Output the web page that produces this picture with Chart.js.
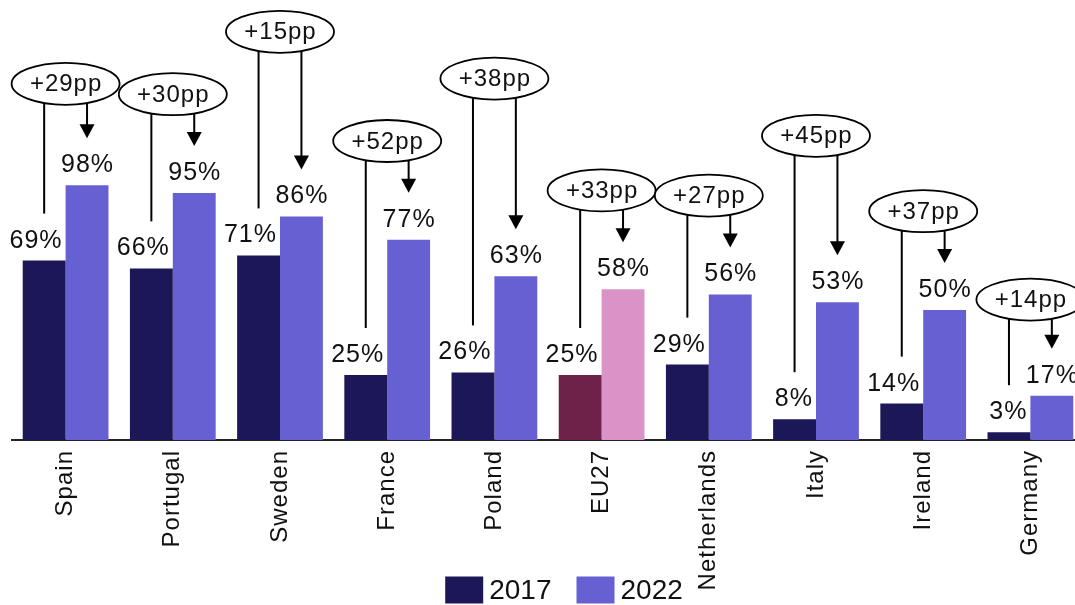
<!DOCTYPE html>
<html>
<head>
<meta charset="utf-8">
<script src="https://cdn.jsdelivr.net/npm/chart.js@4.4.0/dist/chart.umd.min.js"></script>
<style>
  html, body { margin: 0; padding: 0; background: #fff; overflow: hidden; }
  #wrap { width: 1130px; height: 605px; }
</style>
</head>
<body>
<div id="wrap"><canvas id="myChart" width="1130" height="605"></canvas></div>
<script>
const categories = ['Spain', 'Portugal', 'Sweden', 'France', 'Poland', 'EU27', 'Netherlands', 'Italy', 'Ireland', 'Germany'];
const values2017 = [69, 66, 71, 25, 26, 25, 29, 8, 14, 3];
const values2022 = [98, 95, 86, 77, 63, 58, 56, 53, 50, 17];
const changeLabels = ['+29pp', '+30pp', '+15pp', '+52pp', '+38pp', '+33pp', '+27pp', '+45pp', '+37pp', '+14pp'];

// where each change bubble sits, in axis units (layout only)
const bubbleLevel = [137, 133, 157, 115, 139, 96, 94, 117, 88, 54];

const FONT = '"Liberation Sans", Arial, sans-serif';
const dark = '#1c1857';
const light = '#6760d3';
const euDark = '#6e2149';
const euLight = '#d993c6';

const colors2017 = categories.map(c => c === 'EU27' ? euDark : dark);
const colors2022 = categories.map(c => c === 'EU27' ? euLight : light);

const annotate = {
  id: 'annotate',
  beforeDraw(chart) {
    // a touch of tracking on all text
    chart.ctx.letterSpacing = '1px';
  },
  afterDatasetsDraw(chart) {
    const ctx = chart.ctx;
    const xs = chart.scales.x, ys = chart.scales.y;
    const m0 = chart.getDatasetMeta(0).data;
    const m1 = chart.getDatasetMeta(1).data;
    ctx.save();

    // percentage above each bar
    ctx.fillStyle = '#111';
    ctx.font = '25px ' + FONT;
    ctx.textAlign = 'center';
    ctx.textBaseline = 'alphabetic';
    [m0, m1].forEach((bars, d) => bars.forEach((bar, i) => {
      const txt = chart.data.datasets[d].data[i] + '%';
      let x = bar.x + 0.5;
      if (d === 0) {
        // keep the 2017 label clear of the taller bar next to it
        const w = ctx.measureText(txt).width;
        const maxRight = bar.x + bar.width / 2 - 3;
        if (x + w / 2 > maxRight) x = maxRight - w / 2;
      }
      ctx.fillText(txt, x, bar.y - 13);
    }));

    // change bubbles with connector + arrow
    const rx = 54, ry = 21;
    categories.forEach((c, i) => {
      const cx = xs.getPixelForValue(i);
      const cy = ys.getPixelForValue(bubbleLevel[i]);
      const edge = px => cy + ry * Math.sqrt(Math.max(0, 1 - Math.pow((px - cx) / rx, 2)));
      const a = m0[i], b = m1[i];

      ctx.strokeStyle = '#000';
      ctx.fillStyle = '#000';
      ctx.lineWidth = 2;
      ctx.beginPath();
      ctx.moveTo(a.x, edge(a.x));
      ctx.lineTo(a.x, a.y - 47);
      ctx.stroke();

      const tip = b.y - 47;
      ctx.beginPath();
      ctx.moveTo(b.x, edge(b.x));
      ctx.lineTo(b.x, tip - 12);
      ctx.stroke();
      ctx.beginPath();
      ctx.moveTo(b.x - 7.5, tip - 14);
      ctx.lineTo(b.x + 7.5, tip - 14);
      ctx.lineTo(b.x, tip);
      ctx.closePath();
      ctx.fill();

      ctx.beginPath();
      ctx.ellipse(cx, cy, rx, ry, 0, 0, Math.PI * 2);
      ctx.fillStyle = '#fff';
      ctx.fill();
      ctx.lineWidth = 1.8;
      ctx.stroke();

      ctx.fillStyle = '#111';
      ctx.font = '24px ' + FONT;
      ctx.textBaseline = 'middle';
      ctx.fillText(changeLabels[i], cx + 0.5, cy + 1);
      ctx.textBaseline = 'alphabetic';
    });
    ctx.restore();
  },
  afterDraw(chart) {
    // legend along the bottom
    const ctx = chart.ctx;
    const sets = chart.data.datasets;
    ctx.save();
    ctx.letterSpacing = '0px';
    ctx.font = '28px ' + FONT;
    ctx.textBaseline = 'middle';
    ctx.textAlign = 'left';
    const boxW = 38, boxH = 27, gap = 6, spacing = 25;
    const widths = sets.map(s => boxW + gap + ctx.measureText(s.label).width);
    const total = widths.reduce((p, w) => p + w, 0) + spacing * (sets.length - 1);
    let x = 564 - total / 2;
    const yMid = 590;
    sets.forEach((s, i) => {
      ctx.fillStyle = i === 0 ? dark : light;
      ctx.fillRect(x, yMid - boxH / 2, boxW, boxH);
      ctx.fillStyle = '#111';
      ctx.fillText(s.label, x + boxW + gap, yMid + 1);
      x += widths[i] + spacing;
    });
    ctx.restore();
    ctx.letterSpacing = '0px';
  }
};

let bars = document.getElementById('myChart').getContext('2d');
let myChart = new Chart(bars, {
  type: 'bar',
  data: {
    labels: categories,
    datasets: [{
      label: '2017',
      data: values2017,
      backgroundColor: colors2017,
      categoryPercentage: 0.8,
      barPercentage: 1.0
    }, {
      label: '2022',
      data: values2022,
      backgroundColor: colors2022,
      categoryPercentage: 0.8,
      barPercentage: 1.0
    }]
  },
  options: {
    responsive: false,
    animation: false,
    layout: { padding: { top: 11, left: 12, right: 46, bottom: 0 } },
    plugins: {
      legend: { display: false },
      tooltip: { enabled: false }
    },
    scales: {
      x: {
        grid: { display: false, drawTicks: false },
        border: { display: true, color: '#222', width: 2 },
        ticks: {
          color: '#111',
          font: { family: FONT, size: 24 },
          minRotation: 90,
          maxRotation: 90,
          autoSkip: false,
          padding: 10
        },
        afterFit(scale) { scale.height = 165; }
      },
      y: {
        display: false,
        min: 0,
        max: 165
      }
    }
  },
  plugins: [annotate]
});
</script>
</body>
</html>
